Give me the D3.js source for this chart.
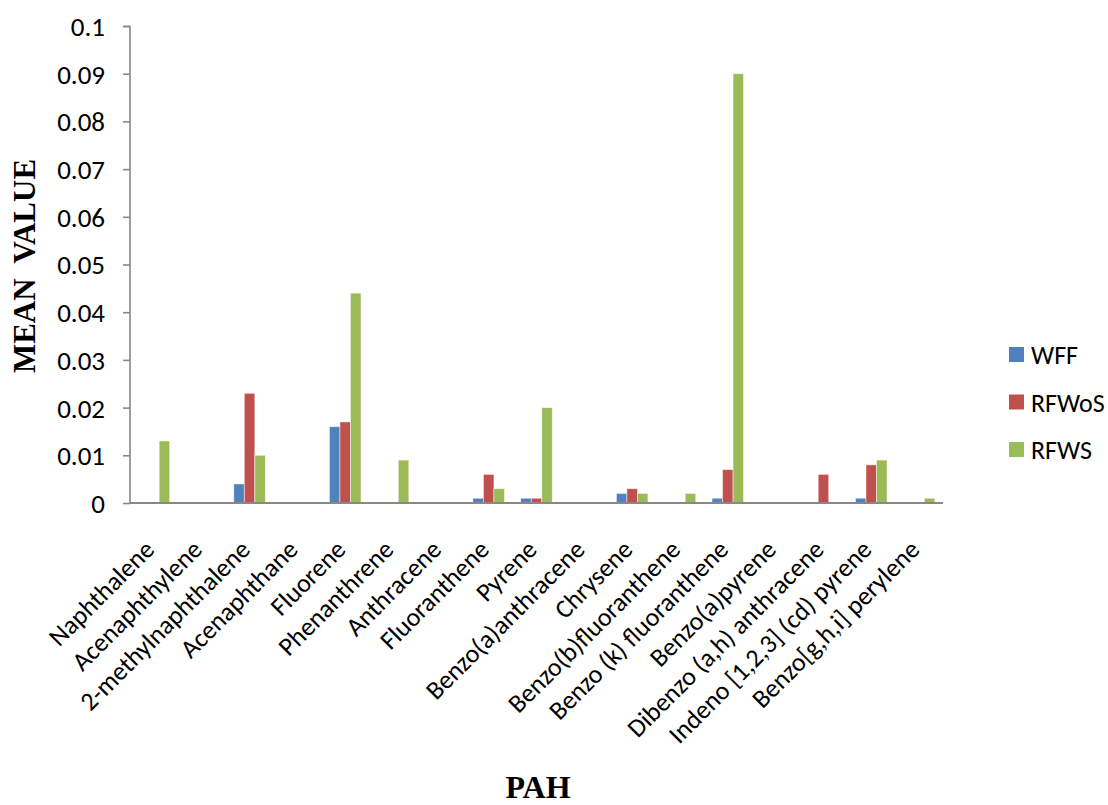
<!DOCTYPE html>
<html>
<head>
<meta charset="utf-8">
<script src="https://cdn.jsdelivr.net/npm/d3@7"></script>
<style>
  html, body { margin: 0; padding: 0; background: #fff; }
  svg { display: block; }
  .tick text, .cat, .legend text { font-family: Carlito, "Open Sans", "Noto Sans", sans-serif; fill: #000; }
  .title { font-family: "Liberation Serif", "DejaVu Serif", serif; font-weight: bold; fill: #000; }
</style>
</head>
<body>
<svg id="chart" width="1108" height="805"></svg>
<script>
// PAH compounds on the x axis
const categories = [
  "Naphthalene", "Acenaphthylene", "2-methylnaphthalene", "Acenaphthane", "Fluorene",
  "Phenanthrene", "Anthracene", "Fluoranthene", "Pyrene", "Benzo(a)anthracene",
  "Chrysene", "Benzo(b)fluoranthene", "Benzo (k) fluoranthene", "Benzo(a)pyrene",
  "Dibenzo (a,h) anthracene", "Indeno [1,2,3] (cd) pyrene", "Benzo[g,h,i] perylene"
];
const seriesNames = ["WFF", "RFWoS", "RFWS"];
const seriesColors = ["#4F81BD", "#C0504D", "#9BBB59"];

// Mean value per compound for each series
const wff   = [0, 0, 0.004, 0, 0.016, 0, 0, 0.001, 0.001, 0, 0.002, 0, 0.001, 0, 0, 0.001, 0];
const rfwos = [0, 0, 0.023, 0, 0.017, 0, 0, 0.006, 0.001, 0, 0.003, 0, 0.007, 0, 0.006, 0.008, 0];
const rfws  = [0.013, 0, 0.010, 0, 0.044, 0.009, 0, 0.003, 0.020, 0, 0.002, 0.002, 0.090, 0, 0, 0.009, 0.001];

const yTicks = [0, 0.01, 0.02, 0.03, 0.04, 0.05, 0.06, 0.07, 0.08, 0.09, 0.1];
const yTickLabels = ["0", "0.01", "0.02", "0.03", "0.04", "0.05", "0.06", "0.07", "0.08", "0.09", "0.1"];

const seriesValues = [wff, rfwos, rfws];

const svg = d3.select("#chart");
const margin = { left: 130, right: 165, top: 26, bottom: 302 };
const W = 1108, H = 805;
const plotW = W - margin.left - margin.right;
const plotH = H - margin.top - margin.bottom;

const g = svg.append("g").attr("transform", `translate(${margin.left},${margin.top})`);

const x0 = d3.scaleBand().domain(categories).range([0, plotW]).paddingInner(0.34).paddingOuter(0.17);
const x1 = d3.scaleBand().domain(seriesNames).range([0, x0.bandwidth()]);
const y = d3.scaleLinear().domain([0, 0.1]).range([plotH, 0]);

// Bars
const rows = categories.map((c, i) => ({ cat: c, vals: seriesNames.map((s, j) => ({ s, j, v: seriesValues[j][i] })) }));
g.selectAll("g.grp").data(rows).join("g")
  .attr("class", "grp")
  .attr("transform", d => `translate(${x0(d.cat)},0)`)
  .selectAll("rect").data(d => d.vals.filter(e => e.v > 0)).join("rect")
  .attr("x", d => x1(d.s))
  .attr("width", x1.bandwidth())
  .attr("y", d => y(d.v))
  .attr("height", d => y(0) - y(d.v))
  .attr("fill", d => seriesColors[d.j])
  .attr("stroke", "rgba(255,255,255,0.6)")
  .attr("stroke-width", 0.8);

// Y axis
const yAxis = g.append("g")
  .call(d3.axisLeft(y).tickValues(yTicks).tickFormat((d, i) => yTickLabels[i]).tickSize(7).tickPadding(18));
yAxis.selectAll("path, line").attr("stroke", "#888").attr("stroke-width", 1.6);
yAxis.select(".domain").attr("d", `M-7,0.5H0V${plotH}`);
yAxis.selectAll(".tick text").attr("font-size", 27).attr("dy", "0.35em");

// X axis baseline
g.append("line")
  .attr("x1", 0).attr("x2", plotW)
  .attr("y1", y(0)).attr("y2", y(0))
  .attr("stroke", "#888").attr("stroke-width", 2.2);

// Category labels, rotated
g.selectAll("text.cat").data(categories).join("text")
  .attr("class", "cat")
  .attr("font-size", 26)
  .attr("text-anchor", "end")
  .attr("transform", d => `translate(${x0(d) + x0.bandwidth() / 2 + 2},${plotH + 48}) rotate(-45)`)
  .text(d => d);

// Axis titles
svg.append("text").attr("class", "title")
  .attr("font-size", 31)
  .attr("text-anchor", "middle")
  .attr("transform", `translate(35,266) rotate(-90)`)
  .attr("xml:space", "preserve")
  .text("MEAN  VALUE");

svg.append("text").attr("class", "title")
  .attr("font-size", 32)
  .attr("text-anchor", "middle")
  .attr("x", 538).attr("y", 798)
  .text("PAH");

// Legend
const legend = svg.append("g").attr("class", "legend").attr("transform", "translate(1009,347)");
const li = legend.selectAll("g").data(seriesNames).join("g")
  .attr("transform", (d, i) => `translate(0,${i * 47.5})`);
li.append("rect").attr("width", 15).attr("height", 15).attr("fill", (d, i) => seriesColors[i]);
li.append("text").attr("x", 22).attr("y", 8).attr("dy", "0.35em").attr("font-size", 26).text(d => d);
</script>
</body>
</html>
